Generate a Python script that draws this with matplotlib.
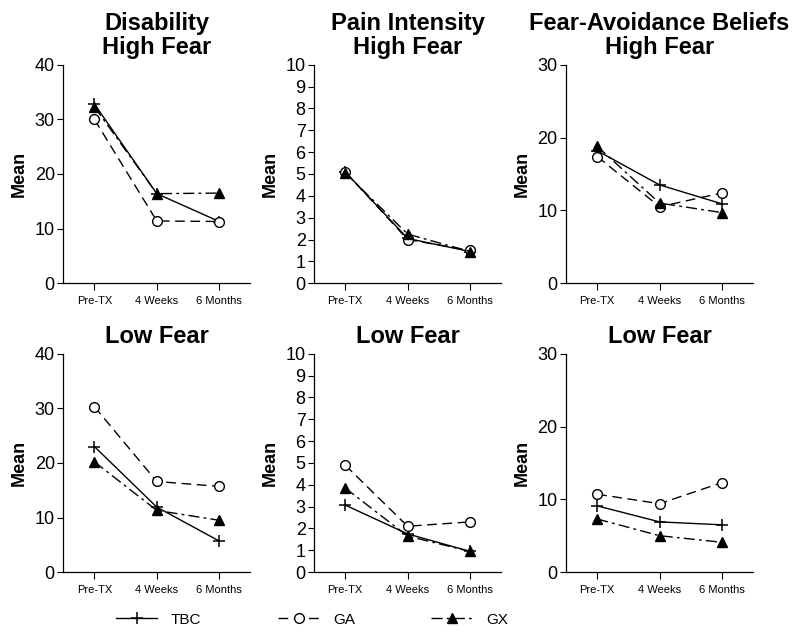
import matplotlib
matplotlib.use("Agg")
import matplotlib.pyplot as plt
from matplotlib.lines import Line2D

plt.rcParams['font.family'] = ['Liberation Sans', 'DejaVu Sans']

TIMEPOINTS = ["Pre-TX", "4 Weeks", "6 Months"]
GROUPS = ["TBC", "GA", "GX"]

# top row: high fear
DIS_HIGH = {"TBC": [32.8, 16.4, 11.3], "GA": [30.0, 11.4, 11.3], "GX": [32.3, 16.4, 16.5]}
PAIN_HIGH = {"TBC": [5.1, 2.05, 1.45], "GA": [5.1, 2.0, 1.5], "GX": [5.05, 2.25, 1.45]}
FAB_HIGH = {"TBC": [18.2, 13.5, 10.9], "GA": [17.4, 10.5, 12.4], "GX": [18.8, 11.0, 9.7]}

# bottom row: low fear
DIS_LOW = {"TBC": [23.0, 11.9, 5.7], "GA": [30.3, 16.6, 15.7], "GX": [20.2, 11.3, 9.5]}
PAIN_LOW = {"TBC": [3.07, 1.75, 0.95], "GA": [4.9, 2.1, 2.3], "GX": [3.85, 1.65, 0.95]}
FAB_LOW = {"TBC": [9.1, 6.9, 6.5], "GA": [10.7, 9.4, 12.3], "GX": [7.3, 5.0, 4.1]}

PANELS = [
    (DIS_HIGH, "Disability\nHigh Fear", 40, [0, 10, 20, 30, 40]),
    (PAIN_HIGH, "Pain Intensity\nHigh Fear", 10, list(range(11))),
    (FAB_HIGH, "Fear-Avoidance Beliefs\nHigh Fear", 30, [0, 10, 20, 30]),
    (DIS_LOW, "Low Fear", 40, [0, 10, 20, 30, 40]),
    (PAIN_LOW, "Low Fear", 10, list(range(11))),
    (FAB_LOW, "Low Fear", 30, [0, 10, 20, 30]),
]

STYLES = {
    "TBC": dict(linestyle="-", marker="+", markersize=9, mfc="black", mew=1.1),
    "GA": dict(linestyle=(0, (7, 4)), marker="o", markersize=7, mfc="white", mew=1.0),
    "GX": dict(linestyle=(0, (8, 3, 2, 3)), marker="^", markersize=7, mfc="black", mew=1.0),
}

COL_LEFT = [0.079, 0.3925, 0.7075]
AX_W = 0.234
ROW_BOTTOM = [0.554, 0.099]
AX_H = 0.344


def draw_panel(ax, data, title, ymax, yticks):
    x = list(range(len(TIMEPOINTS)))
    for g in GROUPS:
        ax.plot(x, data[g], color="black", lw=1.0, zorder=3, **STYLES[g])
    ax.set_xlim(-0.5, 2.5)
    ax.set_ylim(0, ymax)
    ax.set_xticks(x)
    ax.set_xticklabels(TIMEPOINTS, fontsize=8)
    ax.set_yticks(yticks)
    ax.tick_params(axis="y", labelsize=13, length=4, width=0.8, pad=2)
    ax.tick_params(axis="x", length=5, width=0.8, pad=4)
    for side in ["top", "right"]:
        ax.spines[side].set_visible(False)
    for side in ["left", "bottom"]:
        ax.spines[side].set_linewidth(0.9)
    ax.set_ylabel("Mean", fontsize=13, fontweight="bold", labelpad=5)
    ax.set_title(title, fontsize=17, fontweight="bold", linespacing=1.05, pad=8)


def main():
    fig = plt.figure(figsize=(8, 6.35), dpi=100)
    for i, (data, title, ymax, yticks) in enumerate(PANELS):
        row, col = divmod(i, 3)
        ax = fig.add_axes([COL_LEFT[col], ROW_BOTTOM[row], AX_W, AX_H])
        draw_panel(ax, data, title, ymax, yticks)

    handles = [Line2D([], [], color="black", lw=1.0, **STYLES[g]) for g in GROUPS]
    fig.legend(handles, GROUPS, loc="center", bbox_to_anchor=(0.39, 0.024),
               ncol=3, frameon=False, fontsize=11, handlelength=2.7,
               columnspacing=5.0, handletextpad=0.9)
    fig.savefig("out.png", dpi=100)


if __name__ == "__main__":
    main()
